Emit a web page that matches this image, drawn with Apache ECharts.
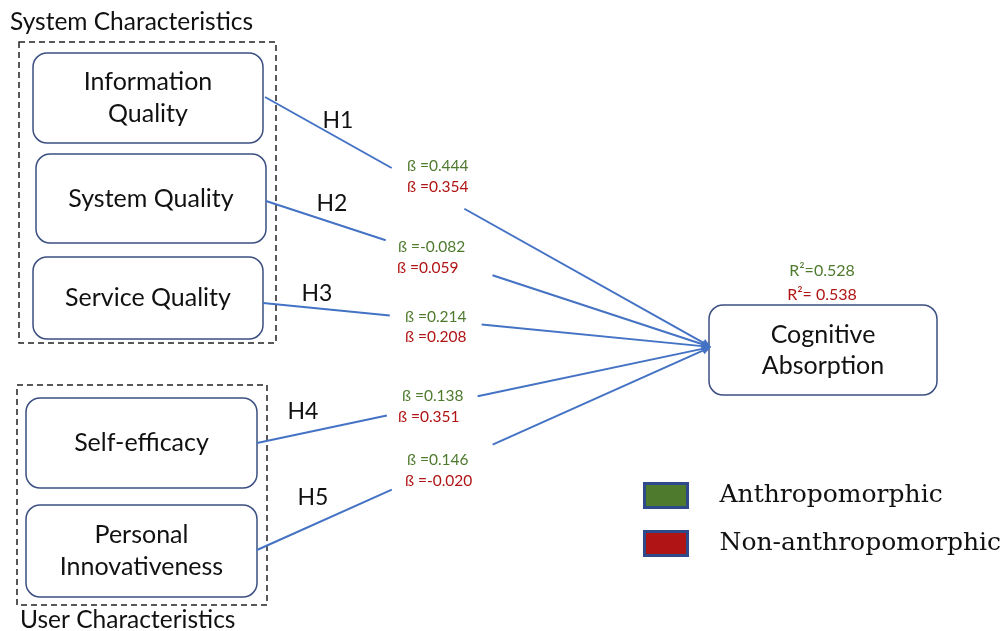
<!DOCTYPE html>
<html>
<head>
<meta charset="utf-8">
<script src="https://cdn.jsdelivr.net/npm/echarts@6/dist/echarts.min.js"></script>
<style>
    html, body { margin: 0; background: #fff; }
    #main { width: 1008px; height: 631px; }
</style>
</head>
<body>
<div id="main"></div>
<script>
// ---- diagram content ----
const groupNames = ['System Characteristics', 'User Characteristics'];
const constructs = ['Information\nQuality', 'System Quality', 'Service Quality', 'Self-efficacy', 'Personal\nInnovativeness'];
const outcome = 'Cognitive\nAbsorption';
const hypotheses = ['H1', 'H2', 'H3', 'H4', 'H5'];
const betaAnthro = [0.444, -0.082, 0.214, 0.138, 0.146];
const betaNonAnthro = [0.354, 0.059, 0.208, 0.351, -0.020];
const r2Labels = ['R\u00b2=0.528', 'R\u00b2= 0.538'];
const legendNames = ['Anthropomorphic', 'Non-anthropomorphic'];

// ---- layout (page pixels) ----
const groupBoxes = [[19, 42, 276, 343], [17, 385, 267, 605]];
const groupTitlePos = [[10, 22], [20, 620]];
const boxes = [[33, 53, 263, 143], [36, 154, 266, 243], [33, 257, 263, 339], [26, 398, 257, 488], [26, 505, 257, 597]];
const outcomeBox = [709, 305, 937, 395];
const pathStart = [[265, 97], [266, 201], [263, 303], [257, 443], [257, 550]];
const arrowTip = [711, 347];
const pathGap = [[0.284, 0.447], [0.269, 0.509], [0.283, 0.488], [0.286, 0.486], [0.297, 0.519]];
const hPos = [[338, 121], [332, 204], [317, 294], [303, 412], [313, 498]];
const betaAnthroPos = [[407, 166], [398, 247], [405, 317], [402, 396], [407, 460]];
const betaNonPos = [[407, 187], [397, 268], [405, 337], [398, 417], [405, 481]];
const r2Pos = [[822, 271], [822, 295]];

const GREEN = '#4e7a2e';
const RED = '#b01414';
const LINE = '#4472c4';
const BOX = '#3b4f80';
const SANS = 'Lato';

const chartDom = document.getElementById('main');
const myChart = echarts.init(chartDom);

function fmtBeta(v) {
    return '\u00df =' + v.toFixed(3);
}

function textEl(api, x, y, text, opts) {
    const p = api.coord([x, y]);
    return {
        type: 'text',
        style: Object.assign({
            text: text,
            x: p[0],
            y: p[1],
            align: 'left',
            verticalAlign: 'middle',
            fontFamily: SANS,
            fontSize: 22,
            fill: '#111'
        }, opts || {})
    };
}

function rectEl(api, b, style, r) {
    const p0 = api.coord([b[0], b[1]]);
    const p1 = api.coord([b[2], b[3]]);
    return {
        type: 'rect',
        shape: {x: p0[0], y: p0[1], width: p1[0] - p0[0], height: p1[1] - p0[1], r: r || 0},
        style: style
    };
}

const option = {
    animation: false,
    grid: {left: 0, right: 0, top: 0, bottom: 0},
    xAxis: {type: 'value', min: 0, max: 1008, show: false},
    yAxis: {type: 'value', min: 0, max: 631, inverse: true, show: false},
    legend: {
        data: legendNames,
        orient: 'vertical',
        left: 643,
        top: 482,
        padding: 0,
        itemWidth: 43,
        itemHeight: 24,
        itemGap: 21,
        icon: 'rect',
        selectedMode: false,
        itemStyle: {borderColor: '#2f4a8a', borderWidth: 3},
        textStyle: {fontFamily: 'DejaVu Serif', fontSize: 25, color: '#111', lineHeight: 24, padding: [0, 0, 0, 27]}
    },
    series: [
        {
            name: 'groups',
            type: 'custom',
            clip: false,
            data: groupBoxes.map(b => [b[0], b[1]]),
            renderItem: function (params, api) {
                const i = params.dataIndex;
                return {
                    type: 'group',
                    children: [
                        rectEl(api, groupBoxes[i], {fill: 'none', stroke: '#222', lineWidth: 1.5, lineDash: [6, 4]}),
                        textEl(api, groupTitlePos[i][0], groupTitlePos[i][1], groupNames[i], {fontSize: 24.5})
                    ]
                };
            }
        },
        {
            name: 'constructs',
            type: 'custom',
            clip: false,
            data: boxes.map(b => [b[0], b[1]]),
            renderItem: function (params, api) {
                const i = params.dataIndex;
                const b = boxes[i];
                return {
                    type: 'group',
                    children: [
                        rectEl(api, b, {fill: '#fff', stroke: BOX, lineWidth: 1.5}, 14),
                        textEl(api, (b[0] + b[2]) / 2, (b[1] + b[3]) / 2, constructs[i],
                            {align: 'center', fontSize: 25, lineHeight: 32})
                    ]
                };
            }
        },
        {
            name: 'outcome',
            type: 'custom',
            clip: false,
            data: [[outcomeBox[0], outcomeBox[1]]],
            renderItem: function (params, api) {
                const b = outcomeBox;
                return {
                    type: 'group',
                    children: [
                        rectEl(api, b, {fill: '#fff', stroke: BOX, lineWidth: 1.5}, 14),
                        textEl(api, (b[0] + b[2]) / 2, (b[1] + b[3]) / 2, outcome,
                            {align: 'center', fontSize: 25, lineHeight: 31})
                    ]
                };
            }
        },
        {
            name: 'paths',
            type: 'custom',
            clip: false,
            data: pathStart.map(s => [s[0], s[1]]),
            renderItem: function (params, api) {
                const i = params.dataIndex;
                const s = api.coord(pathStart[i]);
                const t = api.coord(arrowTip);
                const g = pathGap[i];
                const at = k => [s[0] + (t[0] - s[0]) * k, s[1] + (t[1] - s[1]) * k];
                const a = at(g[0]), b = at(g[1]);
                const dx = t[0] - s[0], dy = t[1] - s[1];
                const len = Math.sqrt(dx * dx + dy * dy);
                const ux = dx / len, uy = dy / len;
                const hl = 9, hw = 4;
                const base = [t[0] - ux * hl, t[1] - uy * hl];
                const lineStyle = {stroke: LINE, lineWidth: 2, fill: 'none'};
                return {
                    type: 'group',
                    children: [
                        {type: 'line', shape: {x1: s[0], y1: s[1], x2: a[0], y2: a[1]}, style: lineStyle},
                        {type: 'line', shape: {x1: b[0], y1: b[1], x2: base[0], y2: base[1]}, style: lineStyle},
                        {
                            type: 'polygon',
                            shape: {points: [t, [base[0] - uy * hw, base[1] + ux * hw], [base[0] + uy * hw, base[1] - ux * hw]]},
                            style: {fill: LINE}
                        }
                    ]
                };
            }
        },
        {
            name: 'hypotheses',
            type: 'custom',
            clip: false,
            data: hPos.map(p => [p[0], p[1]]),
            renderItem: function (params, api) {
                const i = params.dataIndex;
                return textEl(api, hPos[i][0], hPos[i][1], hypotheses[i], {align: 'center', fontSize: 23});
            }
        },
        {
            name: legendNames[0],
            type: 'custom',
            clip: false,
            itemStyle: {color: GREEN},
            data: betaAnthroPos.map(p => [p[0], p[1]]),
            renderItem: function (params, api) {
                const i = params.dataIndex;
                return textEl(api, betaAnthroPos[i][0], betaAnthroPos[i][1], fmtBeta(betaAnthro[i]),
                    {fontSize: 15.5, fill: GREEN});
            }
        },
        {
            name: legendNames[1],
            type: 'custom',
            clip: false,
            itemStyle: {color: RED},
            data: betaNonPos.map(p => [p[0], p[1]]),
            renderItem: function (params, api) {
                const i = params.dataIndex;
                return textEl(api, betaNonPos[i][0], betaNonPos[i][1], fmtBeta(betaNonAnthro[i]),
                    {fontSize: 15.5, fill: RED});
            }
        },
        {
            name: 'r2',
            type: 'custom',
            clip: false,
            data: r2Pos.map(p => [p[0], p[1]]),
            renderItem: function (params, api) {
                const i = params.dataIndex;
                return textEl(api, r2Pos[i][0], r2Pos[i][1], r2Labels[i],
                    {align: 'center', fontSize: 16, fill: i === 0 ? GREEN : RED});
            }
        }
    ]
};
myChart.setOption(option);

window.addEventListener('resize', function () {
    myChart.resize();
});
</script>
</body>
</html>
